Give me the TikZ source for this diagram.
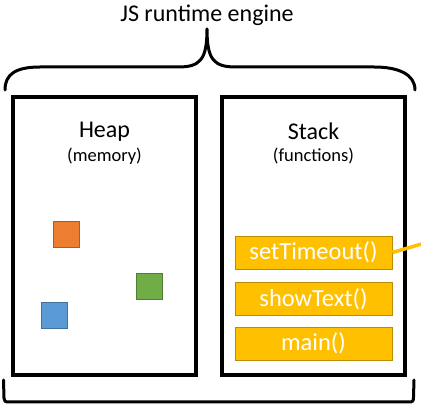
\documentclass[tikz,border=0pt]{standalone}
\usepackage{fontspec}
\setmainfont{Carlito}
\definecolor{gold}{HTML}{FFC000}
\definecolor{golddark}{HTML}{BC8C00}
\definecolor{orng}{HTML}{ED7D31}
\definecolor{orngdark}{HTML}{AE5A21}
\definecolor{grn}{HTML}{70AD47}
\definecolor{grndark}{HTML}{507E32}
\definecolor{blu}{HTML}{5B9BD5}
\definecolor{bludark}{HTML}{41719C}
\begin{document}
\begin{tikzpicture}[x=1pt,y=-1pt,
  membox/.style={draw=black,line width=3.3pt,minimum width=183pt,minimum height=278pt,inner sep=0pt},
  title/.style={font=\fontsize{24}{28}\selectfont,inner sep=0pt},
  subtitle/.style={font=\fontsize{18.5}{22}\selectfont,inner sep=0pt},
  frame/.style={fill=gold,draw=golddark,line width=0.8pt,minimum width=157pt,minimum height=33pt,inner sep=0pt,text=white,font=\fontsize{24.5}{27}\selectfont},
  obj/.style={line width=0.9pt,minimum width=26pt,minimum height=26pt,inner sep=0pt},
  brace/.style={draw=black,line width=3pt,line cap=round,line join=round}]
\useasboundingbox (0,0) rectangle (421,414);
\node[title] (engine) at (207,15) {JS runtime engine};
\coordinate (tip) at (207,29);
\draw[brace] (5,90) .. controls (5,74) and (16,67) .. (40,67) -- (178,67) .. controls (200,67) and (207,60) .. (tip)
  .. controls (207,60) and (214,67) .. (236,67) -- (374,67) .. controls (398,67) and (415,74) .. (415,90);
\draw[brace] (3.5,380) -- (4,398) .. controls (4,401) and (5,402) .. (9,402) -- (409,402) .. controls (413,402) and (413.5,401) .. (413.5,397) -- (414,380);
\node[membox] (heap) at (104.5,236) {};
\node[membox] (stack) at (313.5,236) {};
\node[title] (heapt) at (104.5,131.5) {Heap};
\node[subtitle] (heaps) at (104.5,156) {(memory)};
\node[title] (stackt) at (313.5,131.5) {Stack};
\node[subtitle] (stacks) at (313.5,156) {(functions)};
\node[obj,fill=orng,draw=orngdark] (o1) at (66.5,234) {};
\node[obj,fill=grn,draw=grndark] (o2) at (149,286) {};
\node[obj,fill=blu,draw=bludark] (o3) at (54,315) {};
\node[frame] (f1) at (313.5,252.5) {setTimeout()};
\node[frame] (f2) at (313.5,299) {showText()};
\node[frame] (f3) at (313.5,343.5) {main()};
\coordinate (out) at (425,243);
\draw[gold,line width=3.5pt] (f1.east) -- (out);
\end{tikzpicture}
\end{document}
